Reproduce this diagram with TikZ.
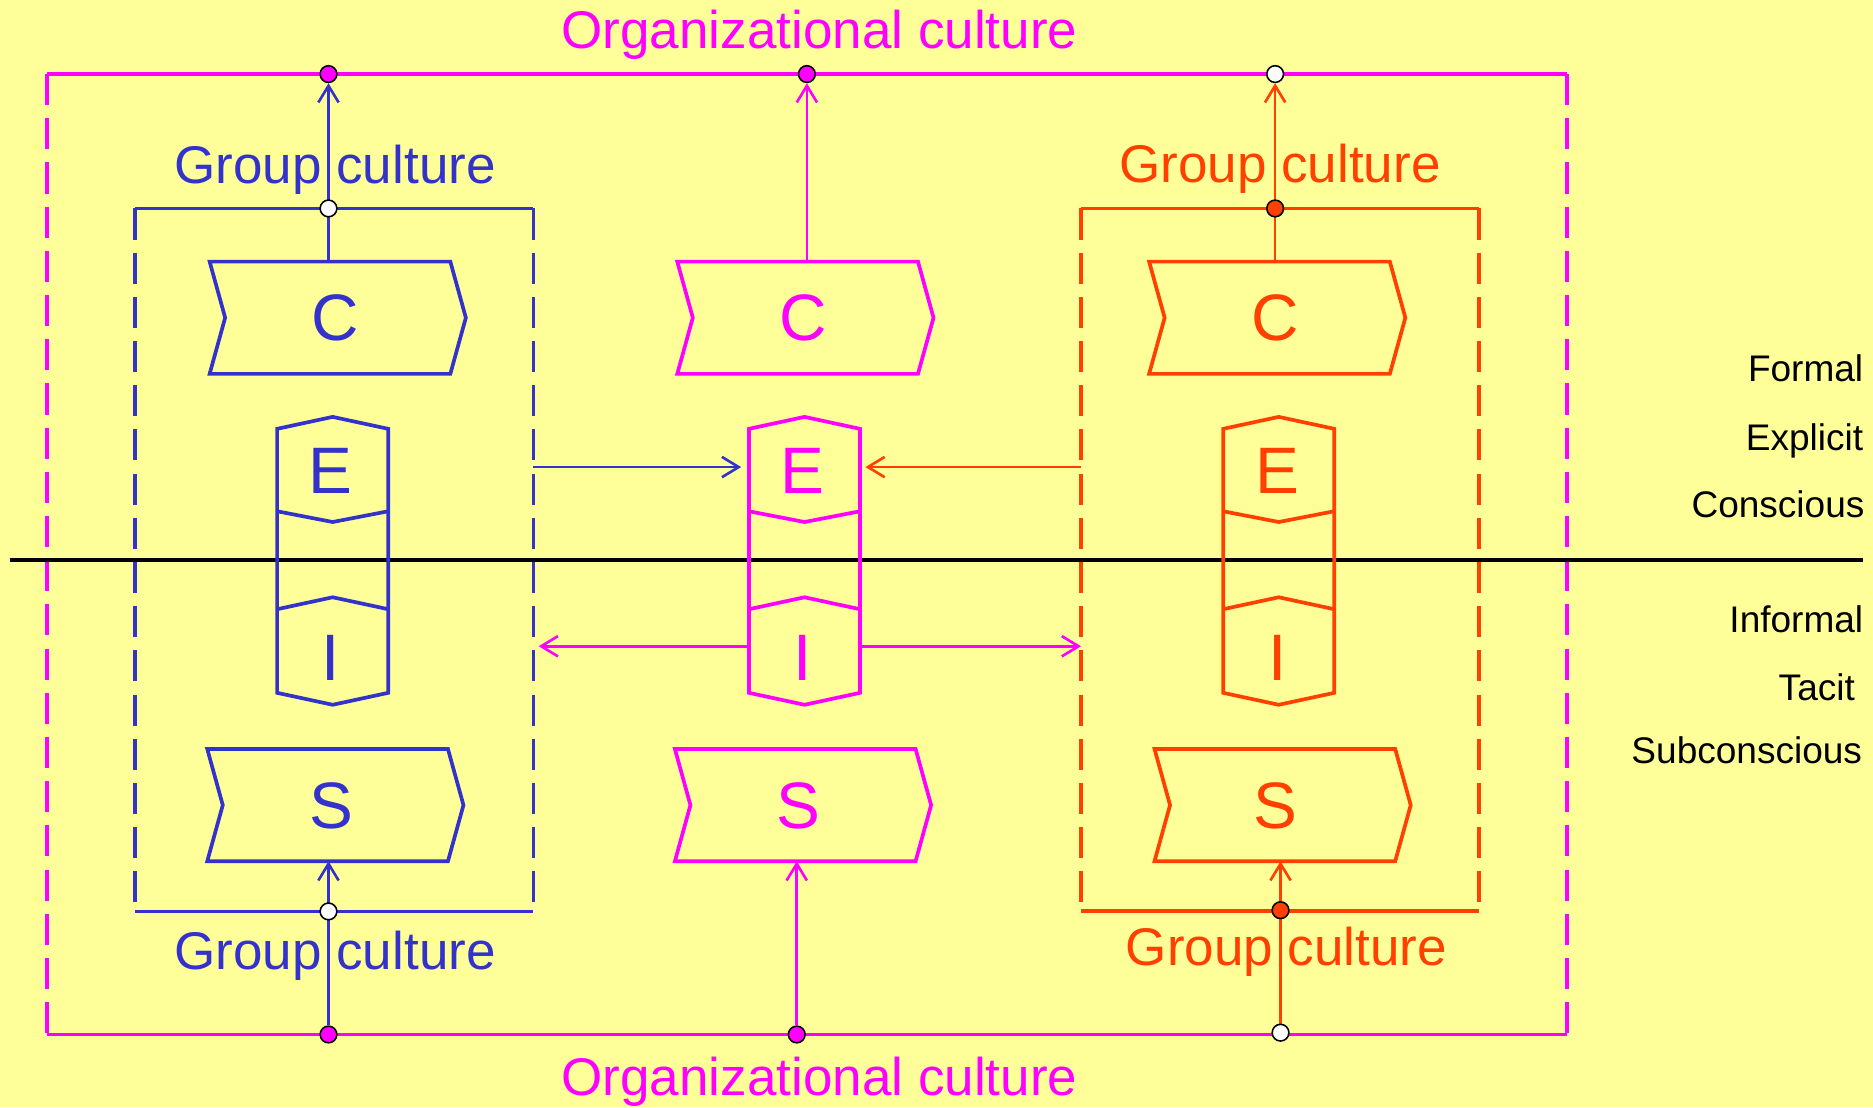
\documentclass[tikz,border=0pt]{standalone}
\usepackage{fontspec}
\setmainfont{Liberation Sans}
\usetikzlibrary{arrows.meta}
\definecolor{bgY}{RGB}{255,255,153}
\definecolor{cB}{RGB}{51,51,204}
\definecolor{cM}{RGB}{255,0,255}
\definecolor{cO}{RGB}{255,64,0}
\pgfdeclarelayer{front}
\pgfsetlayers{main,front}
\newcommand\chevshape[3]{%
  \draw[#1, shp] (#2,#3) -- ++(201.5,0) -- ++(13,47) -- ++(-13,47) -- ++(-201.5,0) -- ++(13,-47) -- cycle;}
\newcommand\hexcol[2]{%
  \draw[#1, shp] ({#2+46.5},349) -- (#2,359) -- (#2,580) -- ({#2+46.5},590) -- ({#2+93},580) -- ({#2+93},359) -- cycle;
  \draw[#1, shp] (#2,428) -- ({#2+46.5},437) -- ({#2+93},428);
  \draw[#1, shp] (#2,510) -- ({#2+46.5},500) -- ({#2+93},510);}
\begin{document}
\begin{tikzpicture}[x=1pt,y=-1pt,
  shp/.style={line width=3.1pt, line join=miter},
  frm/.style={line width=3.1pt},
  dsh/.style={line width=3.1pt, dash pattern=on 26pt off 11pt},
  arr/.style={line width=2.2pt, -{Straight Barb[length=14pt,width=17pt]}},
  dot/.style={circle, draw=black, line width=1.3pt, minimum size=14pt, inner sep=0pt},
  lt/.style={font=\fontsize{55}{60}\selectfont, inner sep=0pt},
  big/.style={font=\fontsize{44.4}{50}\selectfont, inner sep=0pt, anchor=base},
  sidel/.style={font=\fontsize{31}{36}\selectfont, inner sep=0pt, anchor=base east}]
\fill[bgY] (0,0) rectangle (1568,927);
\useasboundingbox (0,0) rectangle (1568,927);

% dots (front layer)
\begin{pgfonlayer}{front}
\node[dot, fill=cM] (mt1) at (275,62) {};
\node[dot, fill=cM] (mt2) at (675.5,62) {};
\node[dot, fill=white] (mt3) at (1067.5,62) {};
\node[dot, fill=cM] (mb1) at (275,866) {};
\node[dot, fill=cM] (mb2) at (667,866) {};
\node[dot, fill=white] (mb3) at (1072,864.5) {};
\node[dot, fill=white] (gbt) at (275,174.5) {};
\node[dot, fill=white] (gbb) at (275,763) {};
\node[dot, fill=cO] (got) at (1067.5,174.5) {};
\node[dot, fill=cO] (gob) at (1072,762) {};
\end{pgfonlayer}

% organizational frame
\draw[cM, frm] (39.5,62) -- (1312,62);
\draw[cM, frm] (39.5,866) -- (1312,866);
\draw[cM, dsh] (39.5,62) -- (39.5,866);
\draw[cM, dsh] (1312,62) -- (1312,866);
\node[big, text=cM] (orgt) at (686,40.4) {Organizational culture};
\node[big, text=cM] (orgb) at (686,917) {Organizational culture};

% blue group box
\draw[cB, frm] (113,174.5) -- (446.5,174.5);
\draw[cB, frm] (113,763) -- (446.5,763);
\draw[cB, dsh] (113,174.5) -- (113,756);
\draw[cB, dsh] (446.5,174.5) -- (446.5,756);
\node[big, text=cB] (gbtl) at (280.5,154) {Group culture};
\node[big, text=cB] (gbbl) at (280.5,812) {Group culture};

% orange group box
\draw[cO, frm] (905,174.5) -- (1238,174.5);
\draw[cO, frm] (905,762.5) -- (1238,762.5);
\draw[cO, dsh] (905,174.5) -- (905,756);
\draw[cO, dsh] (1238,174.5) -- (1238,756);
\node[big, text=cO] (gotl) at (1071.5,152.5) {Group culture};
\node[big, text=cO] (gobl) at (1077,808) {Group culture};

% horizontal divider
\coordinate (hl) at (8,468.5);
\coordinate (hr) at (1560,468.5);
\draw[black, line width=3.4pt] (hl) -- (hr);

% shapes
\chevshape{cB}{175.5}{219}
\chevshape{cB}{173.5}{627}
\chevshape{cM}{567}{219}
\chevshape{cM}{565}{627}
\chevshape{cO}{962}{219}
\chevshape{cO}{966.5}{627}
\hexcol{cB}{232}
\hexcol{cM}{627}
\hexcol{cO}{1024}

% letters
\node[lt, text=cB] (c1) at (281,266) {C};
\node[lt, text=cB] (e1) at (277,394) {E};
\node[lt, text=cB] (i1) at (277,551) {I};
\node[lt, text=cB] (s1) at (277.5,674.5) {S};
\node[lt, text=cM] (c2) at (672,266) {C};
\node[lt, text=cM] (e2) at (672,394) {E};
\node[lt, text=cM] (i2) at (672,551) {I};
\node[lt, text=cM] (s2) at (668,674.5) {S};
\node[lt, text=cO] (c3) at (1067.5,266) {C};
\node[lt, text=cO] (e3) at (1069.5,394) {E};
\node[lt, text=cO] (i3) at (1069.5,551) {I};
\node[lt, text=cO] (s3) at (1068,674.5) {S};

% connector end points
\coordinate (c1top) at (275,219);
\coordinate (s1bot) at (275,721);
\coordinate (c2top) at (675.5,219);
\coordinate (s2bot) at (667,721);
\coordinate (c3top) at (1067.5,219);
\coordinate (s3bot) at (1072,721);
\coordinate (bboxE) at (446.5,391);
\coordinate (oboxW) at (905,391);
\coordinate (e2W) at (620.5,391);
\coordinate (e2E) at (724.5,391);
\coordinate (i2W) at (627,541);
\coordinate (i2E) at (720,541);
\coordinate (bboxEi) at (451,541);
\coordinate (oboxWi) at (905,541);

% vertical connectors
\draw[cB, arr] (c1top) -- (mt1);
\draw[cB, arr] (mb1) -- (s1bot);
\draw[cM, arr] (c2top) -- (mt2);
\draw[cM, arr] (mb2) -- (s2bot);
\draw[cO, arr] (c3top) -- (mt3);
\draw[cO, arr] (mb3) -- (s3bot);

% horizontal connectors
\draw[cB, arr] (bboxE) -- (e2W);
\draw[cO, arr] (oboxW) -- (e2E);
\draw[cM, arr] (i2W) -- (bboxEi);
\draw[cM, arr] (i2E) -- (oboxWi);

% side labels
\node[sidel] (lf) at (1560,319.3) {Formal};
\node[sidel] (le) at (1560,377.3) {Explicit};
\node[sidel] (lc) at (1561,433) {Conscious};
\node[sidel] (li) at (1560,529.3) {Informal};
\node[sidel] (lt) at (1553,586.2) {Tacit};
\node[sidel] (ls) at (1559,639.2) {Subconscious};
\end{tikzpicture}
\end{document}
